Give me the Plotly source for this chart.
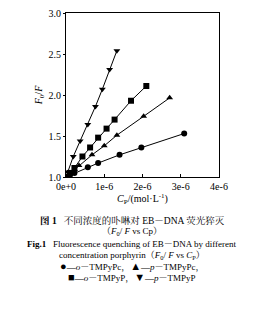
import plotly.graph_objects as go

# data (x in mol/L)
circ_x = [0, 0.1e-6, 0.22e-6, 0.57e-6, 0.84e-6, 1.40e-6, 1.97e-6, 3.09e-6]
circ_y = [1.0, 1.02, 1.05, 1.12, 1.17, 1.27, 1.36, 1.53]
tri_x = [0, 0.1e-6, 0.22e-6, 0.34e-6, 0.68e-6, 1.0e-6, 1.33e-6, 2.03e-6, 2.71e-6]
tri_y = [1.0, 1.04, 1.09, 1.14, 1.27, 1.38, 1.51, 1.74, 1.965]
sq_x = [0, 0.1e-6, 0.22e-6, 0.43e-6, 0.63e-6, 0.84e-6, 1.06e-6, 1.27e-6, 1.70e-6, 2.10e-6]
sq_y = [1.0, 1.05, 1.11, 1.25, 1.36, 1.48, 1.59, 1.70, 1.93, 2.11]
dtri_x = [0, 0.05e-6, 0.19e-6, 0.37e-6, 0.57e-6, 0.77e-6, 0.95e-6, 1.14e-6, 1.33e-6]
dtri_y = [1.0, 1.06, 1.25, 1.44, 1.64, 1.86, 2.07, 2.31, 2.54]

x_tickvals = [0, 1e-6, 2e-6, 3e-6, 4e-6]
x_ticktext = ["0e+0", "1e-6", "2e-6", "3e-6", "4e-6"]
y_tickvals = [1.0, 1.5, 2.0, 2.5, 3.0]
y_ticktext = ["1.0", "1.5", "2.0", "2.5", "3.0"]

captions = [
    ("<b>图 1</b>   不同浓度的卟啉对 EB－DNA 荧光猝灭", 222, 9.5),
    ("（<i>F</i><sub>0</sub>/ <i>F</i> vs Cp）", 234, 9),
    ("<b>Fig.1</b>   Fluorescence quenching of EB－DNA by different", 246, 9),
    ("concentration porphyrin（<i>F</i><sub>0</sub>/ <i>F</i> vs <i>C</i><sub>P</sub>）", 258, 9),
    ("<span style='font-size:11px'>●</span>—<i>o</i>－TMPyPc，<span style='font-size:11px'>▲</span>—<i>p</i>－TMPyPc，", 270, 9),
    ("<span style='font-size:11px'>■</span>—<i>o</i>－TMPyP，<span style='font-size:11px'>▼</span>—<i>p</i>－TMPyP", 281, 9),
]

fig = go.Figure()
series = [
    (circ_x, circ_y, "circle"),
    (tri_x, tri_y, "triangle-up"),
    (sq_x, sq_y, "square"),
    (dtri_x, dtri_y, "triangle-down"),
]
for xs, ys, sym in series:
    fig.add_trace(go.Scatter(x=xs, y=ys, mode="lines+markers",
                             line=dict(color="black", width=1),
                             marker=dict(symbol=sym, size=6, color="black"),
                             showlegend=False))

font = "Liberation Serif, Times New Roman, serif"
L, R, T, B = 66, 45, 7, 143
W, H = 264, 320
ph = H - T - B

fig.update_layout(
    width=W, height=H,
    margin=dict(l=L, r=R, t=T, b=B),
    paper_bgcolor="white", plot_bgcolor="white",
    font=dict(family=font, size=10, color="black"),
    xaxis=dict(range=[0, 4e-6], tickvals=x_tickvals, ticktext=x_ticktext,
               showgrid=False, zeroline=False, showline=True, mirror=True,
               linecolor="black", linewidth=1, ticks="inside", ticklen=3,
               tickcolor="black",
               title=dict(text="<i>C</i><sub>P</sub>/(mol·L<sup>-1</sup>)",
                          font=dict(size=10), standoff=2)),
    yaxis=dict(range=[1.0, 3.0], tickvals=y_tickvals, ticktext=y_ticktext,
               showgrid=False, zeroline=False, showline=True, mirror=True,
               linecolor="black", linewidth=1, ticks="outside", ticklen=2,
               tickcolor="black",
               title=dict(text="<i>F</i><sub>0</sub>/<i>F</i>",
                          font=dict(size=10), standoff=4)),
)

for text, py, fs in captions:
    fig.add_annotation(text=text, xref="paper", yref="paper",
                       x=(W / 2 - L) / (W - L - R), y=(H - B - py) / ph,
                       xanchor="center", yanchor="middle", showarrow=False,
                       font=dict(family="Liberation Serif, Noto Serif CJK SC, Noto Sans CJK SC, serif",
                                 size=fs, color="black"))

fig.write_html("out.html")
